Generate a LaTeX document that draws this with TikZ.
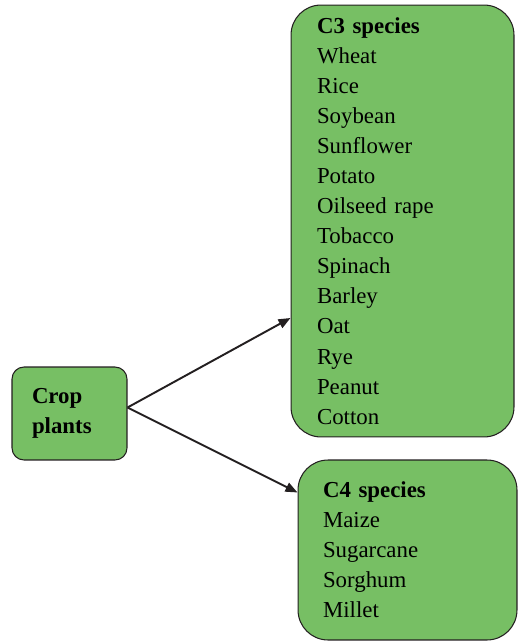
\documentclass[tikz,border=0pt]{standalone}
\usepackage{fontspec}
\setmainfont{Liberation Serif}
\definecolor{LeafGreen}{HTML}{77BF64}
\definecolor{EdgeDark}{HTML}{231F20}
\usetikzlibrary{arrows.meta,calc}
\tikzset{
  cropbox/.style={draw=EdgeDark, line width=0.6pt, rounded corners=0.24cm, fill=LeafGreen, align=left, inner xsep=0.4cm, font=\fontsize{13}{17.1}\selectfont\bfseries},
  listbox/.style={draw=EdgeDark, line width=0.6pt, rounded corners=0.6cm, fill=LeafGreen, align=left, inner ysep=0pt, font=\fontsize{13}{17.1}\selectfont},
  arrow/.style={-{Triangle[length=2.4mm, width=1.9mm]}, line width=1.1pt, draw=EdgeDark}
}

\begin{document}
\begin{tikzpicture}[x=0.02cm, y=-0.02cm]
\useasboundingbox (0,0) rectangle (518,644);
\node[cropbox, minimum width=2.3cm, minimum height=1.86cm, text width=1.5cm] (crop) at (69.5,413.5)
  {Crop\\plants};
\node[listbox, minimum width=4.46cm, minimum height=8.64cm, inner xsep=0.52cm, text width=3.42cm] (cthree) at (402.5,221)
  {\textbf{C3 species}\\Wheat\\Rice\\Soybean\\Sunflower\\Potato\\Oilseed rape\\Tobacco\\Spinach\\Barley\\Oat\\Rye\\Peanut\\Cotton};
\node[listbox, minimum width=4.38cm, minimum height=3.6cm, inner xsep=0.5cm, text width=3.38cm] (cfour) at (407.5,550)
  {\textbf{C4 species}\\Maize\\Sugarcane\\Sorghum\\Millet};
% arrows to the two groups
\draw[arrow] ($(crop.east)+(0,-6)$) -- ($(cthree.west)+(0,97)$);
\draw[arrow] ($(crop.east)+(0,-6)$) -- ($(cfour.north west)+(0,33)$);
\end{tikzpicture}
\end{document}
